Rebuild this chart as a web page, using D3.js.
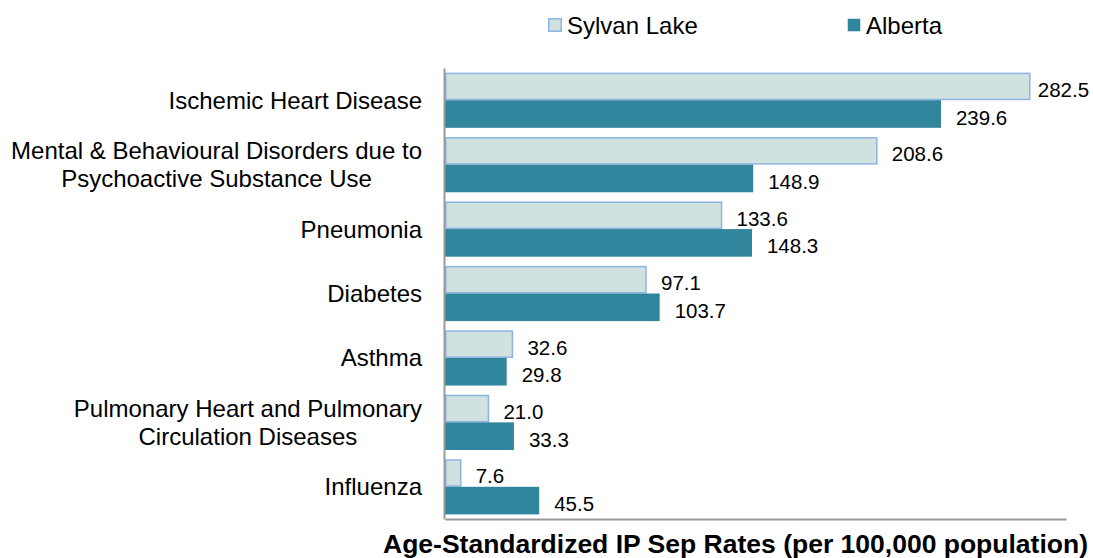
<!DOCTYPE html>
<html><head><meta charset="utf-8">
<script src="https://cdn.jsdelivr.net/npm/d3@7"></script>
<style>body{margin:0;background:#fff;}svg{display:block;font-family:"Liberation Sans",Arial,sans-serif;}</style>
</head><body>
<svg id="c" width="1093" height="558"></svg>
<script>
const categories = [
  ["Ischemic Heart Disease"],
  ["Mental & Behavioural Disorders due to", "Psychoactive Substance Use"],
  ["Pneumonia"],
  ["Diabetes"],
  ["Asthma"],
  ["Pulmonary Heart and Pulmonary", "Circulation Diseases"],
  ["Influenza"]
];
const seriesNames = ["Sylvan Lake", "Alberta"];
const sylvanLake = [282.5, 208.6, 133.6, 97.1, 32.6, 21.0, 7.6];
const alberta = [239.6, 148.9, 148.3, 103.7, 29.8, 33.3, 45.5];
const xDomain = [0, 300];
const axisTitle = "Age-Standardized IP Sep Rates (per 100,000 population)";

(function () {
const svg = d3.select("#c");
const pL = 445, pR = 1066, pT = 68, pB = 519;
const x = d3.scaleLinear().domain(xDomain).range([pL, pR]);
const y0 = d3.scaleBand().domain(d3.range(categories.length)).range([pT, pB]).paddingInner(0.143).paddingOuter(0.0715);
const y1 = d3.scaleBand().domain([0, 1]).range([0, y0.bandwidth()]);
const fills = ["#D0E2E0", "#31859C"];
const strokes = ["#8EB4E3", "none"];
const data = [sylvanLake, alberta];

// bars
data.forEach((vals, s) => {
  const inset = s === 0 ? 0.75 : 0;
  svg.append("g").selectAll("rect").data(vals).join("rect")
    .attr("x", x(0) + inset)
    .attr("y", (d, i) => y0(i) + y1(s) + inset)
    .attr("width", d => x(d) - x(0) - inset)
    .attr("height", y1.bandwidth() - 2 * inset)
    .attr("fill", fills[s])
    .attr("stroke", strokes[s])
    .attr("stroke-width", 1.5);
});

// axes lines
const gx = svg.append("g").attr("transform", `translate(0,${pB})`)
  .call(d3.axisBottom(x).tickValues([]).tickSizeOuter(0));
gx.select(".domain").attr("stroke", "#999").attr("stroke-width", 2);
const gy = svg.append("g").attr("transform", `translate(${pL - 1},0)`)
  .call(d3.axisLeft(y0).tickValues([]).tickSizeOuter(0));
gy.select(".domain").attr("stroke", "#999").attr("stroke-width", 2);

// value labels
data.forEach((vals, s) => {
  svg.append("g").selectAll("text").data(vals).join("text")
    .attr("x", d => x(d) + 15)
    .attr("y", (d, i) => y0(i) + y1(s) + y1.bandwidth() / 2 + 3)
    .attr("dominant-baseline", "central")
    .attr("font-size", 20.5).attr("fill", "#000")
    .text(d => d.toFixed(1))
    .each(function(d) {
      const w = this.getComputedTextLength();
      const xx = +this.getAttribute("x");
      if (xx + w > 1091) this.setAttribute("x", x(d) + 8);
    });
});

// category labels
categories.forEach((lines, i) => {
  const g = svg.append("g");
  const cy = y0(i) + y0.bandwidth() / 2;
  const lh = 28;
  const texts = lines.map((l, k) => g.append("text")
    .attr("y", cy + (k - (lines.length - 1) / 2) * lh)
    .attr("dominant-baseline", "central")
    .attr("font-size", 24).attr("fill", "#000").text(l));
  const maxW = d3.max(texts, t => t.node().getComputedTextLength());
  texts.forEach(t => t.attr("x", 422 - maxW / 2).attr("text-anchor", "middle"));
});

// legend
const legX = [548, 847];
seriesNames.forEach((n, s) => {
  svg.append("rect").attr("x", legX[s] + 0.75).attr("y", 18.75).attr("width", 12.5).attr("height", 12.5)
    .attr("fill", fills[s]).attr("stroke", strokes[s]).attr("stroke-width", 1.5);
  svg.append("text").attr("x", legX[s] + 19).attr("y", 25).attr("dominant-baseline", "central")
    .attr("font-size", 24).attr("fill", "#000").text(n);
});

// axis title
svg.append("text").attr("x", 383).attr("y", 553)
  .attr("textLength", 705).attr("lengthAdjust", "spacingAndGlyphs")
  .attr("font-size", 25).attr("font-weight", "bold").attr("fill", "#000").text(axisTitle);
})();
</script>
</body></html>
